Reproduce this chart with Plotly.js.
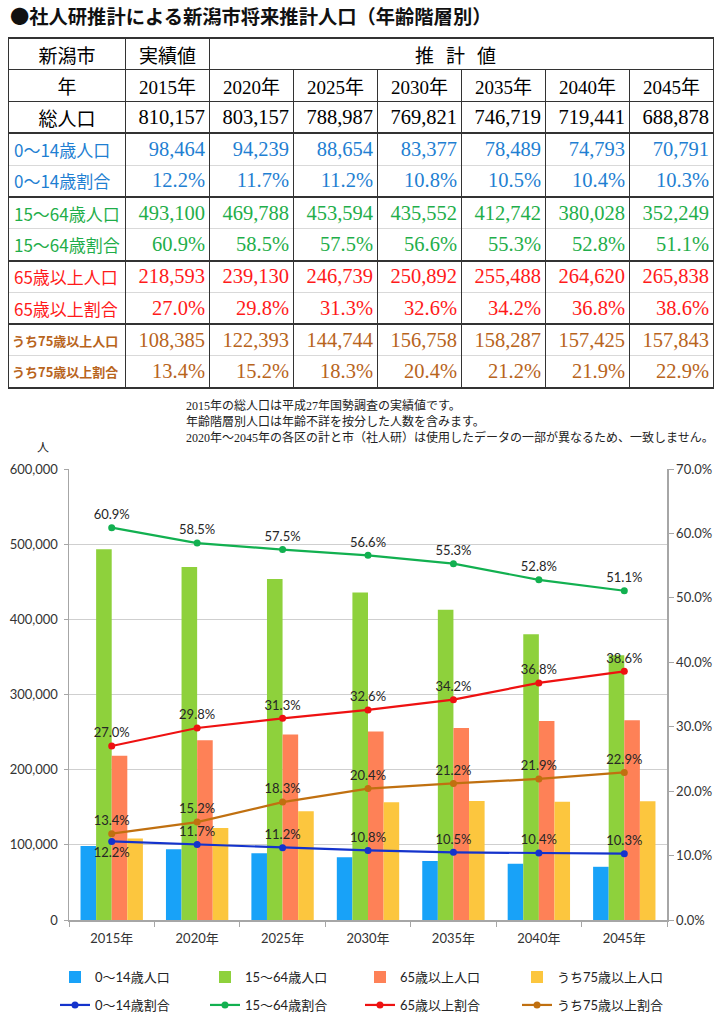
<!DOCTYPE html>
<html>
<head>
<meta charset="utf-8">
<script src="https://cdn.plot.ly/plotly-3.0.1.min.js"></script>
<style>
  body { margin:0; width:722px; height:1024px; overflow:hidden; position:relative; background:#fff; }
  #title { position:absolute; left:10px; top:2px; font: bold 19.3px 'Noto Sans CJK JP', sans-serif; color:#111; white-space:nowrap; }
  #tbl { position:absolute; left:8px; top:37px; border-collapse:collapse; table-layout:fixed; width:705px; }
  #tbl td { height:31.8px; padding:0 4px; font-family:'Liberation Serif','Noto Sans CJK JP',serif; font-size:20.5px; white-space:nowrap; overflow:hidden;
            border-left:1.5px solid #333; border-right:1.5px solid #333; border-top:none; border-bottom:none; box-sizing:border-box; }
  #tbl td.c { text-align:center; font-size:19px; }
  #tbl td.r { text-align:right; padding-right:4px; }
  #tbl td.l { text-align:left; padding-left:5px; font-family:'Noto Sans CJK JP',sans-serif; font-size:17px; }
  #tbl td.sm { font-size:13px; padding-left:3px; font-weight:bold; }
  #notes { position:absolute; z-index:5; left:186px; top:398px; font-family:'Liberation Serif','Noto Sans CJK JP',serif; font-size:12px; line-height:16px; color:#222; white-space:nowrap; }
  #chart { position:absolute; z-index:1; left:0; top:430px; width:722px; height:594px; }
</style>
</head>
<body>
<div id="title">●社人研推計による新潟市将来推計人口（年齢階層別）</div>
<table id="tbl"><colgroup id="cols"></colgroup><tbody id="tb"></tbody></table>
<div id="chart"></div>
<div id="notes"></div>
<script>
// ---------- data ----------
const years = ['2015年','2020年','2025年','2030年','2035年','2040年','2045年'];
const totalPop = [810157, 803157, 788987, 769821, 746719, 719441, 688878];
const pop0_14 = [98464, 94239, 88654, 83377, 78489, 74793, 70791];
const ratio0_14 = [12.2, 11.7, 11.2, 10.8, 10.5, 10.4, 10.3];
const pop15_64 = [493100, 469788, 453594, 435552, 412742, 380028, 352249];
const ratio15_64 = [60.9, 58.5, 57.5, 56.6, 55.3, 52.8, 51.1];
const pop65 = [218593, 239130, 246739, 250892, 255488, 264620, 265838];
const ratio65 = [27.0, 29.8, 31.3, 32.6, 34.2, 36.8, 38.6];
const pop75 = [108385, 122393, 144744, 156758, 158287, 157425, 157843];
const ratio75 = [13.4, 15.2, 18.3, 20.4, 21.2, 21.9, 22.9];

const popNames = ['0～14歳人口','15～64歳人口','65歳以上人口','うち75歳以上人口'];
const ratioNames = ['0～14歳割合','15～64歳割合','65歳以上割合','うち75歳以上割合'];
const notes = [
  '2015年の総人口は平成27年国勢調査の実績値です。',
  '年齢階層別人口は年齢不詳を按分した人数を含みます。',
  '2020年～2045年の各区の計と市（社人研）は使用したデータの一部が異なるため、一致しません。'
];

// ---------- colours ----------
const tblColors = ['#1f7fd2', '#1fae4a', '#ff1a1a', '#b8641c'];
const barColors = ['#18a2f8', '#8ed13c', '#fe8157', '#fcc63e'];
const lineColors = ['#1433cc', '#12b050', '#ee1111', '#c07010'];

// ---------- table ----------
const fmt = v => v.toLocaleString('en-US');
const pct = v => v.toFixed(1) + '%';
const cols = document.getElementById('cols');
[117,84,84,84,84,84,84,84].forEach(w => { const c = document.createElement('col'); c.style.width = w + 'px'; cols.appendChild(c); });
const tb = document.getElementById('tb');
const DARK = '1.5px solid #333', THICK = '2px solid #333', LIGHT = '1px solid #d9d9d9';
function addRow(cells, top, bottom) {
  const tr = document.createElement('tr');
  cells.forEach(c => {
    const td = document.createElement('td');
    td.textContent = c.t;
    td.className = c.cls || '';
    if (c.span) td.colSpan = c.span;
    if (c.color) td.style.color = c.color;
    if (c.ls) td.style.letterSpacing = c.ls;
    td.style.borderTop = top;
    if (bottom) td.style.borderBottom = bottom;
    tr.appendChild(td);
  });
  tb.appendChild(tr);
}
addRow([{t:'新潟市',cls:'c'},{t:'実績値',cls:'c'},{t:'推計値',cls:'c',span:6,ls:'12px'}], THICK);
addRow([{t:'年',cls:'c'}].concat(years.map(y => ({t:y,cls:'c'}))), DARK);
addRow([{t:'総人口',cls:'c'}].concat(totalPop.map(v => ({t:fmt(v),cls:'r'}))), DARK);
const pops = [pop0_14, pop15_64, pop65, pop75];
const ratios = [ratio0_14, ratio15_64, ratio65, ratio75];
for (let g = 0; g < 4; g++) {
  const col = tblColors[g];
  const small = g === 3 ? ' sm' : '';
  addRow([{t:popNames[g],cls:'l'+small,color:col}].concat(pops[g].map(v => ({t:fmt(v),cls:'r',color:col}))), THICK);
  addRow([{t:ratioNames[g],cls:'l'+small,color:col}].concat(ratios[g].map(v => ({t:pct(v),cls:'r',color:col}))), LIGHT, g === 3 ? THICK : null);
}
document.getElementById('notes').innerHTML = notes.map(n => '<div>' + n + '</div>').join('');

// ---------- chart ----------
const legX = [0.0762, 0.2839, 0.4986, 0.7161];   // legend column positions (container fraction)
const legY = [0.079, 0.032];                      // legend row positions (container fraction)
const legFont = {family: 'Lato, "Noto Sans CJK JP", sans-serif', size: 13, color: '#222'};
const legends = {};
const traces = [];
function legendSpec(x, y) {
  return {orientation: 'h', xref: 'container', yref: 'container', x: x, y: y, xanchor: 'left', yanchor: 'middle',
          itemwidth: 30, font: legFont, bgcolor: 'rgba(0,0,0,0)', borderwidth: 0};
}
for (let g = 0; g < 4; g++) {
  const id = g === 0 ? 'legend' : 'legend' + (g + 1);
  legends[id] = legendSpec(legX[g], legY[0]);
  traces.push({
    type: 'bar', name: popNames[g], x: years, y: pops[g],
    marker: {color: barColors[g], line: {width: 0}},
    yaxis: 'y', legend: id, hoverinfo: 'skip'
  });
}
for (let g = 0; g < 4; g++) {
  const id = 'legend' + (g + 5);
  legends[id] = legendSpec(legX[g], legY[1]);
  const pos = years.map((_, i) => (g === 0 && i === 0) ? 'bottom center' : 'top center');
  traces.push({
    type: 'scatter', mode: 'lines+markers+text', name: ratioNames[g], x: years,
    y: ratios[g].map(v => v / 100),
    texttemplate: '%{y:.1%}', textposition: pos,
    textfont: {family: 'Lato, "Noto Sans CJK JP", sans-serif', size: 13, color: '#262626'},
    line: {color: lineColors[g], width: 2.2},
    marker: {color: lineColors[g], size: 7},
    yaxis: 'y2', legend: id, cliponaxis: false, hoverinfo: 'skip'
  });
}

const axisFont = {family: 'Lato, "Noto Sans CJK JP", sans-serif', size: 13, color: '#333'};
const layout = Object.assign({
  width: 722, height: 594,
  margin: {l: 69, r: 55, t: 39, b: 104},
  paper_bgcolor: 'rgba(0,0,0,0)', plot_bgcolor: 'rgba(0,0,0,0)',
  font: axisFont,
  showlegend: true,
  barmode: 'group', bargap: 0.27, bargroupgap: 0,
  xaxis: {
    type: 'category', showline: true, linecolor: '#a6a6a6', linewidth: 1.5,
    ticks: 'outside', tickson: 'boundaries', ticklen: 5, tickcolor: '#a6a6a6',
    tickfont: axisFont, showgrid: false, ticklabelstandoff: 6, automargin: false
  },
  yaxis: {
    range: [0, 600000], dtick: 100000, tickformat: ',d',
    showgrid: true, gridcolor: '#cfcfcf', gridwidth: 1,
    showline: true, linecolor: '#a6a6a6', linewidth: 1.5,
    ticks: 'outside', ticklen: 4, tickcolor: '#a6a6a6',
    zeroline: false, tickfont: axisFont, ticklabelstandoff: 3, automargin: false
  },
  yaxis2: {
    overlaying: 'y', side: 'right', range: [0, 0.7], dtick: 0.1, tickformat: '.1%',
    showgrid: false, showline: true, linecolor: '#a6a6a6', linewidth: 1.5,
    ticks: 'outside', ticklen: 5, tickcolor: '#a6a6a6', zeroline: false, tickfont: axisFont, automargin: false
  },
  annotations: [{
    text: '人', xref: 'paper', yref: 'paper', x: -0.044, y: 1.049,
    xanchor: 'center', yanchor: 'middle', showarrow: false,
    font: {family: '"Noto Sans CJK JP", sans-serif', size: 12, color: '#222'}
  }]
}, legends);
Plotly.newPlot('chart', traces, layout, {displayModeBar: false, staticPlot: true});
</script>
</body>
</html>
